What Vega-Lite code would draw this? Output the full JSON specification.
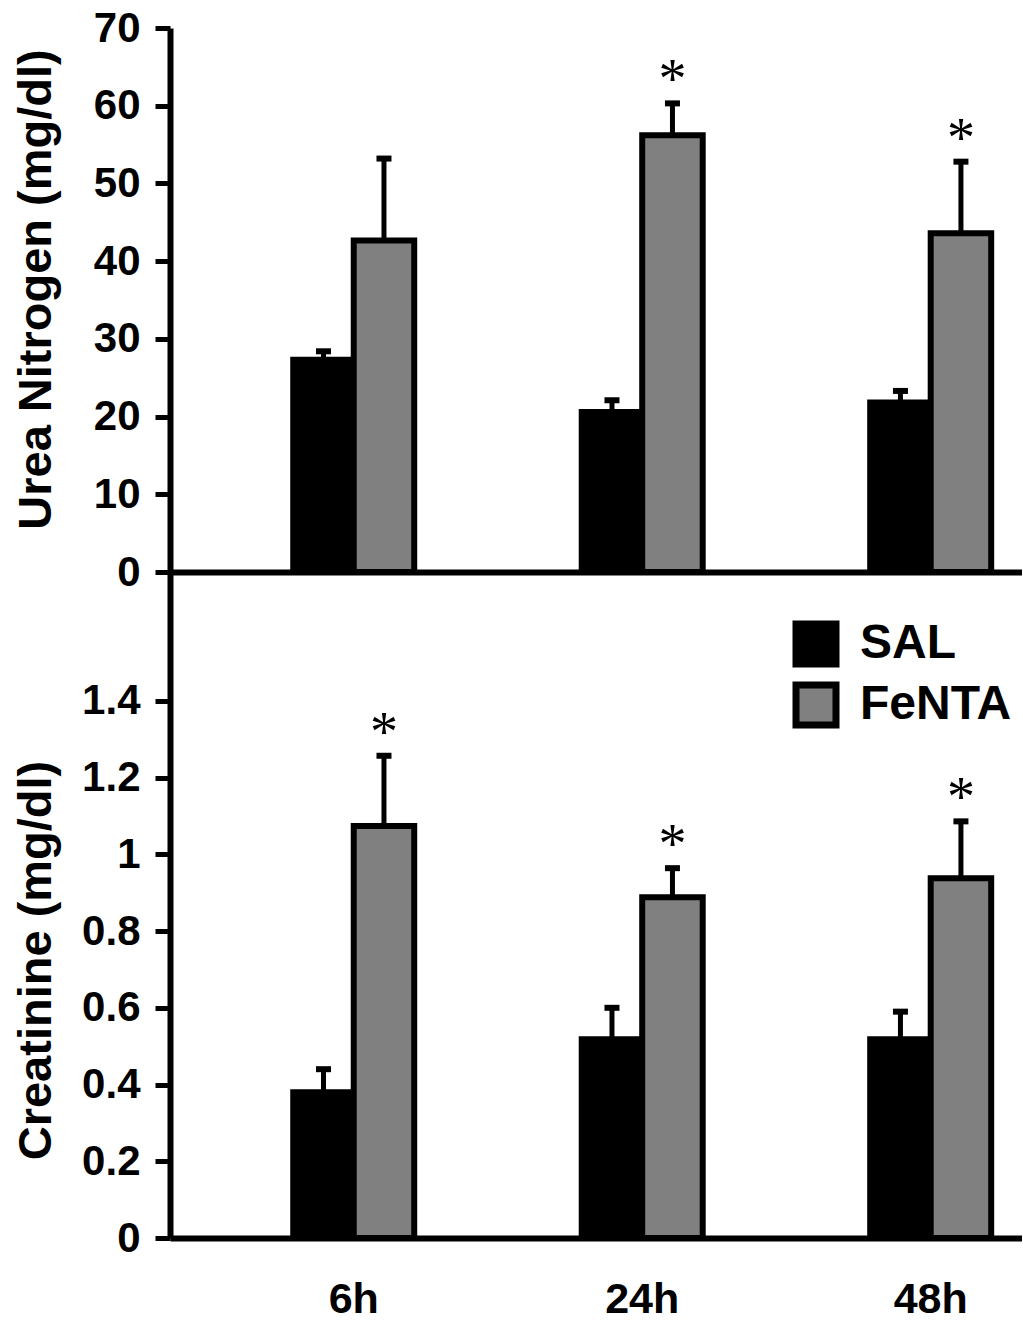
{
  "$schema": "https://vega.github.io/schema/vega-lite/v6.json",
  "background": "white",
  "padding": {"left": 11, "top": 7, "right": 0, "bottom": 0},
  "bounds": "flush",
  "spacing": 0,
  "config": {
    "font": "Liberation Sans",
    "view": {"stroke": null},
    "axis": {
      "domainColor": "black", "domainWidth": 6, "tickColor": "black", "tickWidth": 5, "tickSize": 15,
      "labelFont": "Liberation Sans", "labelFontWeight": "bold", "labelFontSize": 42, "labelColor": "black",
      "titleFont": "Liberation Sans", "titleFontWeight": "bold", "titleFontSize": 47, "titleColor": "black",
      "grid": false
    }
  },
  "datasets": {
    "urea": [
      {"time": "6h", "group": "SAL", "value": 27.3, "err": 28.4, "star": false},
      {"time": "6h", "group": "FeNTA", "value": 42.65, "err": 53.2, "star": false},
      {"time": "24h", "group": "SAL", "value": 20.6, "err": 22.1, "star": false},
      {"time": "24h", "group": "FeNTA", "value": 56.2, "err": 60.3, "star": true},
      {"time": "48h", "group": "SAL", "value": 21.8, "err": 23.3, "star": false},
      {"time": "48h", "group": "FeNTA", "value": 43.6, "err": 52.8, "star": true}
    ],
    "creat": [
      {"time": "6h", "group": "SAL", "value": 0.38, "err": 0.44, "star": false},
      {"time": "6h", "group": "FeNTA", "value": 1.074, "err": 1.257, "star": true},
      {"time": "24h", "group": "SAL", "value": 0.518, "err": 0.6, "star": false},
      {"time": "24h", "group": "FeNTA", "value": 0.888, "err": 0.964, "star": true},
      {"time": "48h", "group": "SAL", "value": 0.518, "err": 0.59, "star": false},
      {"time": "48h", "group": "FeNTA", "value": 0.938, "err": 1.086, "star": true}
    ]
  },
  "resolve": {"legend": {"color": "independent"}},
  "vconcat": [
    {
      "width": 852,
      "height": 544,
      "data": {"name": "urea"},
      "encoding": {
        "x": {"field": "time", "type": "nominal", "sort": ["6h", "24h", "48h"],
              "scale": {"paddingInner": 0.5806, "paddingOuter": 0.267, "align": 0.8},
              "axis": {"title": null, "labels": false, "ticks": false, "domain": true}},
        "xOffset": {"field": "group", "type": "nominal", "sort": ["SAL", "FeNTA"],
                    "scale": {"paddingInner": 0, "paddingOuter": 0}}
      },
      "layer": [
        {
          "mark": {"type": "bar", "stroke": "black", "strokeWidth": 6},
          "encoding": {
            "y": {"field": "value", "type": "quantitative", "title": "Urea Nitrogen (mg/dl)",
                  "scale": {"domain": [0, 70], "nice": false},
                  "axis": {"values": [0, 10, 20, 30, 40, 50, 60, 70], "labelPadding": 15,
                           "titleX": -120, "titleY": 261, "titleAngle": 270, "titleBaseline": "alphabetic", "titleAlign": "center"}},
            "color": {"field": "group", "type": "nominal",
                      "scale": {"domain": ["SAL", "FeNTA"], "range": ["#000000", "#808080"]},
                      "legend": null}
          }
        },
        {
          "mark": {"type": "rule", "strokeWidth": 5, "color": "black"},
          "encoding": {
            "y": {"field": "value", "type": "quantitative", "title": "Urea Nitrogen (mg/dl)"},
            "y2": {"field": "err"}
          }
        },
        {
          "mark": {"type": "tick", "size": 15, "thickness": 6, "color": "black", "opacity": 1},
          "encoding": {
            "y": {"field": "err", "type": "quantitative", "title": "Urea Nitrogen (mg/dl)"}
          }
        },
        {
          "transform": [{"filter": "datum.star"}],
          "mark": {"type": "text", "text": "*", "font": "Liberation Serif", "fontSize": 56, "color": "black", "baseline": "alphabetic", "dy": -5},
          "encoding": {
            "y": {"field": "err", "type": "quantitative", "title": "Urea Nitrogen (mg/dl)"}
          }
        }
      ]
    },
    {
      "width": 852,
      "height": 666,
      "data": {"name": "creat"},
      "encoding": {
        "x": {"field": "time", "type": "nominal", "sort": ["6h", "24h", "48h"],
              "scale": {"paddingInner": 0.5806, "paddingOuter": 0.267, "align": 0.8},
              "axis": {"title": null, "labels": true, "ticks": false, "domain": true, "labelAngle": 0,
                       "labelPadding": 40, "labelFontSize": 43}},
        "xOffset": {"field": "group", "type": "nominal", "sort": ["SAL", "FeNTA"],
                    "scale": {"paddingInner": 0, "paddingOuter": 0}}
      },
      "layer": [
        {
          "mark": {"type": "bar", "stroke": "black", "strokeWidth": 6},
          "encoding": {
            "y": {"field": "value", "type": "quantitative", "title": "Creatinine (mg/dl)",
                  "scale": {"domain": [0, 1.736], "nice": false},
                  "axis": {"values": [0, 0.2, 0.4, 0.6, 0.8, 1, 1.2, 1.4], "format": "~g", "labelPadding": 15,
                           "titleX": -120, "titleY": 388, "titleAngle": 270, "titleBaseline": "alphabetic", "titleAlign": "center"}},
            "color": {"field": "group", "type": "nominal",
                      "scale": {"domain": ["SAL", "FeNTA"], "range": ["#000000", "#808080"]},
                      "legend": {"orient": "none", "legendX": 622, "legendY": 48, "title": null,
                                 "symbolType": "square", "symbolSize": 1600, "symbolStrokeWidth": 7,
                                 "symbolStrokeColor": "black", "symbolOpacity": 1,
                                 "labelFont": "Liberation Sans", "labelFontWeight": "bold", "labelFontSize": 48,
                                 "labelColor": "black", "labelOffset": 20, "rowPadding": -7, "padding": 0}}
          }
        },
        {
          "mark": {"type": "rule", "strokeWidth": 5, "color": "black"},
          "encoding": {
            "y": {"field": "value", "type": "quantitative", "title": "Creatinine (mg/dl)"},
            "y2": {"field": "err"}
          }
        },
        {
          "mark": {"type": "tick", "size": 15, "thickness": 6, "color": "black", "opacity": 1},
          "encoding": {
            "y": {"field": "err", "type": "quantitative", "title": "Creatinine (mg/dl)"}
          }
        },
        {
          "transform": [{"filter": "datum.star"}],
          "mark": {"type": "text", "text": "*", "font": "Liberation Serif", "fontSize": 56, "color": "black", "baseline": "alphabetic", "dy": -5},
          "encoding": {
            "y": {"field": "err", "type": "quantitative", "title": "Creatinine (mg/dl)"}
          }
        }
      ]
    }
  ]
}
